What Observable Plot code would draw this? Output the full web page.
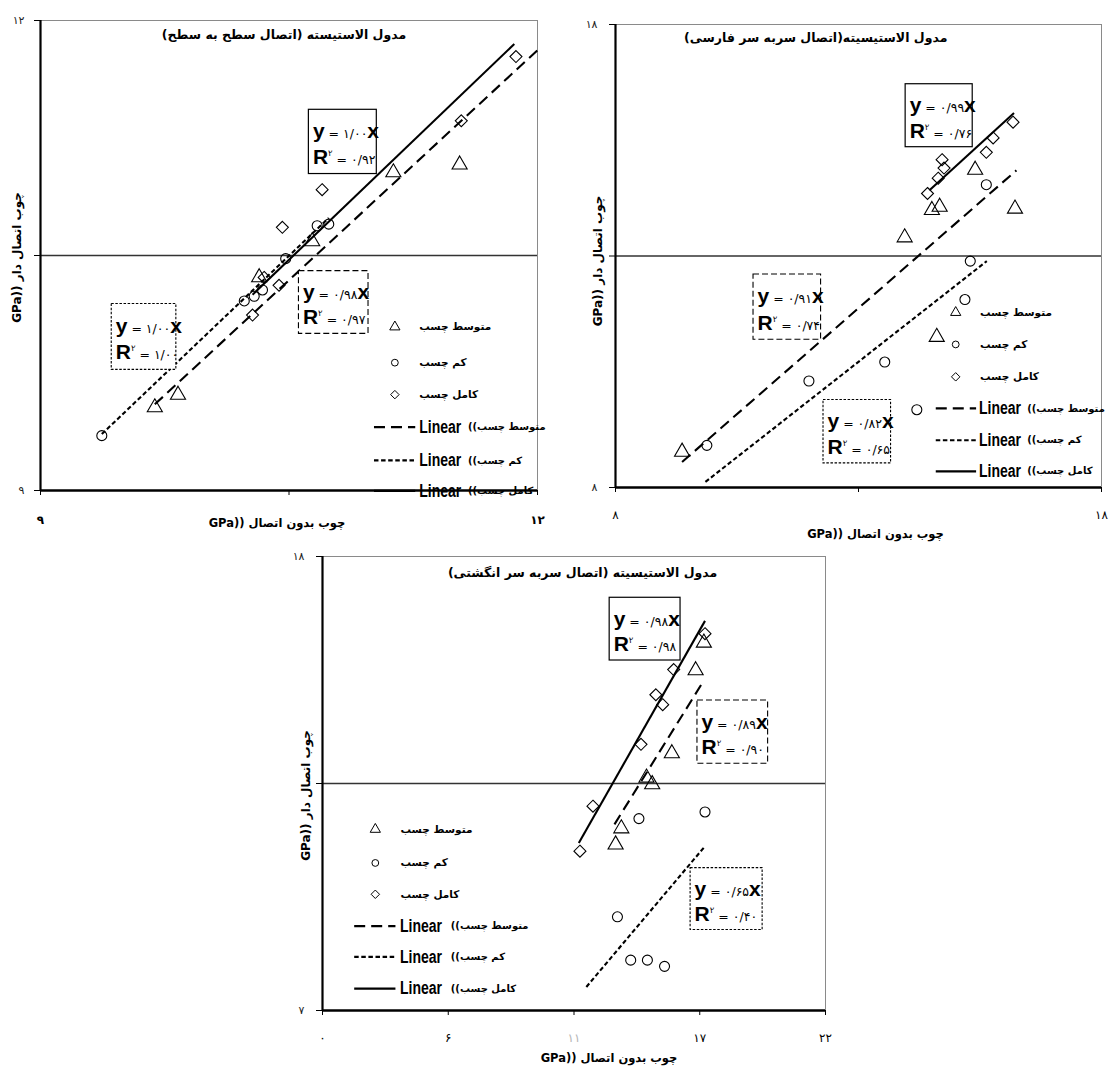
<!DOCTYPE html>
<html><head><meta charset="utf-8">
<script src="https://cdn.jsdelivr.net/npm/d3@7"></script>
<script src="https://cdn.jsdelivr.net/npm/@observablehq/plot@0.6"></script>
<style>
html,body{margin:0;padding:0;background:#fff;}
#root{position:relative;width:1109px;height:1066px;overflow:hidden;background:#fff;}
.panel{position:absolute;}
.panel svg{max-width:none !important;display:block;overflow:visible;}
</style></head><body><div id="root"></div>
<script>
const FA = '"DejaVu Sans", sans-serif';
const LAT = '"Liberation Sans", Arial, sans-serif';

// ---------- shared labels ----------
const seriesNames = ["متوسط چسب", "کم چسب", "کامل چسب"]; // order: mid, low, full
const linearWord = "Linear";
const xAxisTitle = "GPa)) چوب بدون اتصال";
const yAxisTitle = "GPa)) چوب اتصال دار";

// ---------- panel 1: اتصال سطح به سطح ----------
const p1Title = "مدول الاستیسته (اتصال سطح به سطح)";
const p1XTicks = [9, 10.5, 12];
const p1XTickLabels = ["۹", "", "۱۲"];
const p1YTicks = [9, 10.5, 12];
const p1YTickLabels = ["۹", "", "۱۲"];
const p1MidX = [9.69, 9.83, 10.32, 10.64, 11.13, 11.53];
const p1MidY = [9.53, 9.61, 10.36, 10.59, 11.03, 11.08];
const p1LowX = [9.37, 10.23, 10.29, 10.34, 10.48, 10.67, 10.74];
const p1LowY = [9.35, 10.21, 10.24, 10.28, 10.48, 10.69, 10.70];
const p1FullX = [10.28, 10.35, 10.44, 10.46, 10.70, 11.54, 11.87];
const p1FullY = [10.12, 10.36, 10.31, 10.68, 10.92, 11.36, 11.77];
const p1FitX0 = [9.69, 9.37, 10.28];
const p1FitY0 = [9.55, 9.36, 10.25];
const p1FitX1 = [12.00, 10.74, 11.86];
const p1FitY1 = [11.81, 10.74, 11.85];
const p1Slope = ["۰/۹۸", "۱/۰۰", "۱/۰۰"];
const p1R2 = ["۰/۹۷", "۱/۰۰", "۰/۹۲"];

// ---------- panel 2: اتصال سربه سر فارسی ----------
const p2Title = "مدول الاستیسیته(اتصال سربه سر فارسی)";
const p2XTicks = [8, 13, 18];
const p2XTickLabels = ["۸", "", "۱۸"];
const p2YTicks = [8, 13, 18];
const p2YTickLabels = ["۸", "", "۱۸"];
const p2MidX = [9.37, 13.95, 14.51, 14.61, 14.67, 15.40, 16.22];
const p2MidY = [8.77, 13.40, 13.99, 11.25, 14.06, 14.86, 14.02];
const p2LowX = [9.88, 11.98, 13.54, 14.20, 15.19, 15.30, 15.63];
const p2LowY = [8.91, 10.30, 10.71, 9.68, 12.06, 12.89, 14.54];
const p2FullX = [14.42, 14.64, 14.72, 14.76, 15.63, 15.77, 16.18];
const p2FullY = [14.35, 14.68, 15.08, 14.90, 15.24, 15.55, 15.89];
const p2FitX0 = [9.37, 9.85, 14.46];
const p2FitY0 = [8.55, 8.12, 14.42];
const p2FitX1 = [16.25, 15.64, 16.20];
const p2FitY1 = [14.85, 12.89, 16.09];
const p2Slope = ["۰/۹۱", "۰/۸۲", "۰/۹۹"];
const p2R2 = ["۰/۷۴", "۰/۶۵", "۰/۷۶"];

// ---------- panel 3: اتصال سربه سر انگشتی ----------
const p3Title = "مدول الاستیسیته (اتصال سربه سر انگشتی)";
const p3XTicks = [0, 5.5, 11, 16.5, 22];
const p3XTickLabels = ["۰", "۶", "۱۱", "۱۷", "۲۲"];
const p3YTicks = [7, 12.5, 18];
const p3YTickLabels = ["۷", "", "۱۸"];
const p3MidX = [12.82, 13.07, 14.17, 14.42, 15.28, 16.32, 16.68];
const p3MidY = [11.02, 11.41, 12.64, 12.48, 13.23, 15.24, 15.91];
const p3LowX = [12.90, 13.48, 13.84, 14.21, 14.96, 16.73];
const p3LowY = [9.27, 8.22, 11.65, 8.22, 8.07, 11.81];
const p3FullX = [11.26, 11.83, 13.93, 14.58, 14.88, 15.36, 16.73];
const p3FullY = [10.86, 11.95, 13.45, 14.65, 14.41, 15.26, 16.13];
const p3FitX0 = [12.77, 11.54, 11.21];
const p3FitY0 = [11.51, 7.57, 11.06];
const p3FitX1 = [16.64, 16.73, 16.73];
const p3FitY1 = [14.96, 10.98, 16.44];
const p3Slope = ["۰/۸۹", "۰/۶۵", "۰/۹۸"];
const p3R2 = ["۰/۹۰", "۰/۴۰", "۰/۹۸"];

// ---------- layout (positions / styles) ----------
const panels = [
  {left: 0, top: 0, width: 560, height: 545, mL: 40, mR: 23, mT: 20, mB: 55,
   xDomain: [9, 12], yDomain: [9, 12], title: p1Title, titleX: 0.49, titleY: 0.03,
   xTicks: p1XTicks, xLabels: p1XTickLabels, yTicks: p1YTicks, yLabels: p1YTickLabels,
   xPad: 20, xTitleDx: -12, xTitleDy: 33, yTitleDx: -23, yTitleDy: 2, yPad: 10, xBold: true,
   xs: [p1MidX, p1LowX, p1FullX], ys: [p1MidY, p1LowY, p1FullY],
   fitX0: p1FitX0, fitY0: p1FitY0, fitX1: p1FitX1, fitY1: p1FitY1, slope: p1Slope, r2: p1R2,
   boxes: [[10.56, 10.98, 10.00, 10.40], [9.43, 9.82, 9.77, 10.19], [10.62, 11.03, 11.02, 11.43]],
   leg: {symX: 0.713, rows: [0.652, 0.728, 0.796, 0.865, 0.936, 1.001], lineX0: 0.672, lineX1: 0.755, linX: 0.762, faX: 0.856, markTextX: 0.762}},
  {left: 560, top: 0, width: 549, height: 545, mL: 55, mR: 8, mT: 24, mB: 58,
   xDomain: [8, 18], yDomain: [8, 18], title: p2Title, titleX: 0.412, titleY: 0.03,
   xTicks: p2XTicks, xLabels: p2XTickLabels, yTicks: p2YTicks, yLabels: p2YTickLabels,
   xPad: 18, xTitleDx: 17, xTitleDy: 47, yTitleDx: -17, yTitleDy: 5, yPad: 12, xBold: false,
   xs: [p2MidX, p2LowX, p2FullX], ys: [p2MidY, p2LowY, p2FullY],
   fitX0: p2FitX0, fitY0: p2FitY0, fitX1: p2FitX1, fitY1: p2FitY1, slope: p2Slope, r2: p2R2,
   boxes: [[10.84, 12.23, 11.19, 12.60], [12.28, 13.67, 8.52, 9.89], [13.97, 15.35, 15.35, 16.71]],
   leg: {symX: 0.70, rows: [0.622, 0.691, 0.761, 0.829, 0.898, 0.965], lineX0: 0.660, lineX1: 0.743, linX: 0.748, faX: 0.843, markTextX: 0.750}},
  {left: 260, top: 540, width: 580, height: 526, mL: 62, mR: 15, mT: 16, mB: 56,
   xDomain: [0, 22], yDomain: [7, 18], title: p3Title, titleX: 0.517, titleY: 0.037,
   xTicks: p3XTicks, xLabels: p3XTickLabels, yTicks: p3YTicks, yLabels: p3YTickLabels,
   xPad: 18, xTitleDx: 35, xTitleDy: 48, yTitleDx: -16, yTitleDy: 12, yPad: 12, xBold: false,
   xs: [p3MidX, p3LowX, p3FullX], ys: [p3MidY, p3LowY, p3FullY],
   fitX0: p3FitX0, fitY0: p3FitY0, fitX1: p3FitX1, fitY1: p3FitY1, slope: p3Slope, r2: p3R2,
   boxes: [[16.40, 19.49, 12.98, 14.51], [16.10, 19.25, 8.95, 10.45], [12.56, 15.66, 15.48, 17.0]],
   leg: {symX: 0.105, rows: [0.601, 0.675, 0.744, 0.814, 0.882, 0.952], lineX0: 0.064, lineX1: 0.146, linX: 0.154, faX: 0.251, markTextX: 0.155}}
];

const symbols = ["triangle", "circle", "diamond2"];
const symR = [5.6, 5.0, 5.4];
const legR = [3.8, 3.4, 3.8];
const fitDash = ["11,6", "4.5,2.6", null];
const boxDash = ["6,3", "2.5,1.6", null];
const RLM = "\u200F";

function makePanel(P) {
  const [x0, x1] = P.xDomain, [y0, y1] = P.yDomain;
  const ym = (y0 + y1) / 2;
  const fx = f => x0 + f * (x1 - x0);
  const fy = f => y1 - f * (y1 - y0);
  const xMap = new Map(P.xTicks.map((t, i) => [t, P.xLabels[i]]));
  const yMap = new Map(P.yTicks.map((t, i) => [t, P.yLabels[i]]));
  const marks = [];

  // frame top/right (gray) and middle gridline
  marks.push(Plot.ruleY([y1], {stroke: "#8a8a8a", strokeWidth: 1}));
  marks.push(Plot.ruleX([x1], {stroke: "#8a8a8a", strokeWidth: 1}));
  marks.push(Plot.ruleY([ym], {stroke: "#333", strokeWidth: 1.5}));

  // trend lines
  [0, 1, 2].forEach(k => {
    marks.push(Plot.link([{a: P.fitX0[k], b: P.fitY0[k], c: P.fitX1[k], d: P.fitY1[k]}],
      {x1: "a", y1: "b", x2: "c", y2: "d", stroke: "black", strokeWidth: 2.1,
       strokeDasharray: fitDash[k], strokeLinecap: "butt"}));
  });

  // data points
  [0, 1, 2].forEach(k => {
    const data = P.xs[k].map((x, i) => ({x, y: P.ys[k][i]}));
    marks.push(Plot.dot(data, {x: "x", y: "y", symbol: symbols[k], r: symR[k],
      stroke: "black", strokeWidth: 1.1, fill: "none"}));
  });

  // equation boxes
  [0, 1, 2].forEach(k => {
    const b = P.boxes[k];
    marks.push(Plot.rect([b], {x1: d => d[0], x2: d => d[1], y1: d => d[2], y2: d => d[3],
      fill: "white", stroke: "black", strokeWidth: boxDash[k] ? 1.1 : 1.2, strokeDasharray: boxDash[k]}));
    const h = b[3] - b[2];
    marks.push(Plot.text(["Y|" + P.slope[k]], {text: d => d, x: b[0], y: b[3] - 0.34 * h, dx: 4,
      textAnchor: "start", fontSize: 21}));
    marks.push(Plot.text(["R|" + P.r2[k]], {text: d => d, x: b[0], y: b[3] - 0.74 * h, dx: 4,
      textAnchor: "start", fontSize: 21}));
  });

  // legend
  const L = P.leg;
  [0, 1, 2].forEach(k => {
    marks.push(Plot.dot([0], {x: fx(L.symX), y: fy(L.rows[k]), symbol: symbols[k], r: legR[k],
      stroke: "black", strokeWidth: 1, fill: "none"}));
    marks.push(Plot.text([seriesNames[k]], {text: d => d, x: fx(L.markTextX), y: fy(L.rows[k]),
      textAnchor: "start", fontSize: 10.5, fontWeight: "bold", fontFamily: FA}));
    const r = L.rows[3 + k];
    marks.push(Plot.ruleY([fy(r)], {x1: fx(L.lineX0), x2: fx(L.lineX1), stroke: "black",
      strokeWidth: 2.2, strokeDasharray: fitDash[k]}));
    marks.push(Plot.text([linearWord], {text: d => d, x: fx(L.linX), y: fy(r),
      textAnchor: "start", fontSize: 17.5, fontWeight: "bold", fontFamily: LAT}));
    marks.push(Plot.text(["((" + seriesNames[k]], {text: d => d, x: fx(L.faX), y: fy(r), dx: 2,
      textAnchor: "start", fontSize: 10, fontWeight: "bold", fontFamily: FA}));
  });

  // title
  marks.push(Plot.text([RLM + P.title + RLM], {text: d => d, x: fx(P.titleX), y: fy(P.titleY),
    fontSize: 12.5, fontWeight: "bold", fontFamily: FA}));

  // axes
  marks.push(Plot.axisX(P.xTicks, {tickSize: 5, tickPadding: P.xPad, tickFormat: d => xMap.get(d),
    fontSize: 12, fontWeight: P.xBold ? "bold" : "normal", fontFamily: FA, label: null}));
  marks.push(Plot.axisY(P.yTicks, {tickSize: 6, tickPadding: P.yPad, tickFormat: d => yMap.get(d),
    fontSize: 11, fontFamily: FA, fill: "#222", label: null}));
  marks.push(Plot.text([xAxisTitle], {text: d => d, frameAnchor: "bottom", dx: P.xTitleDx, dy: P.xTitleDy,
    textAnchor: "middle", lineAnchor: "middle", fontSize: 11.5, fontWeight: "bold", fontFamily: FA}));
  marks.push(Plot.text([yAxisTitle], {text: d => d, frameAnchor: "left", dx: P.yTitleDx, dy: P.yTitleDy,
    rotate: -90, textAnchor: "middle", lineAnchor: "middle", fontSize: 12, fontWeight: "bold", fontFamily: FA}));

  // left & bottom axis lines
  marks.push(Plot.ruleX([x0], {stroke: "black", strokeWidth: 2.2}));
  marks.push(Plot.ruleY([y0], {stroke: "black", strokeWidth: 2.4}));

  const svg = Plot.plot({
    width: P.width, height: P.height,
    marginLeft: P.mL, marginRight: P.mR, marginTop: P.mT, marginBottom: P.mB,
    x: {domain: P.xDomain, axis: null},
    y: {domain: P.yDomain, axis: null},
    style: {fontFamily: FA, fontSize: "12px", background: "transparent", overflow: "visible"},
    marks
  });

  // rich equation text (y = ...x, R² = ...), condensed "Linear"
  d3.select(svg).selectAll("text").each(function () {
    const s = this.textContent;
    const t = d3.select(this);
    if (s.startsWith("Y|")) {
      const v = s.slice(2); t.text(null);
      t.append("tspan").attr("font-family", LAT).attr("font-weight", "bold").attr("font-size", 21).text("y");
      t.append("tspan").attr("font-family", FA).attr("font-size", 12.5).text(" = " + v);
      t.append("tspan").attr("font-family", LAT).attr("font-weight", "bold").attr("font-size", 21).text("x");
    } else if (s.startsWith("R|")) {
      const v = s.slice(2); t.text(null);
      t.append("tspan").attr("font-family", LAT).attr("font-weight", "bold").attr("font-size", 21).text("R");
      t.append("tspan").attr("font-family", FA).attr("font-size", 8.5).attr("dy", -8).text("۲");
      t.append("tspan").attr("font-family", FA).attr("font-size", 12.5).attr("dy", 8).text(" = " + v);
    } else if (s === linearWord) {
      t.attr("textLength", 42).attr("lengthAdjust", "spacingAndGlyphs");
    } else if (s === "۱۱") {
      t.attr("fill", "#b5b5b5");
    }
  });
  return svg;
}

const root = document.getElementById("root");
panels.forEach(P => {
  const div = document.createElement("div");
  div.className = "panel";
  div.style.left = P.left + "px";
  div.style.top = P.top + "px";
  div.style.width = P.width + "px";
  div.style.height = P.height + "px";
  div.appendChild(makePanel(P));
  root.appendChild(div);
});
</script></body></html>
